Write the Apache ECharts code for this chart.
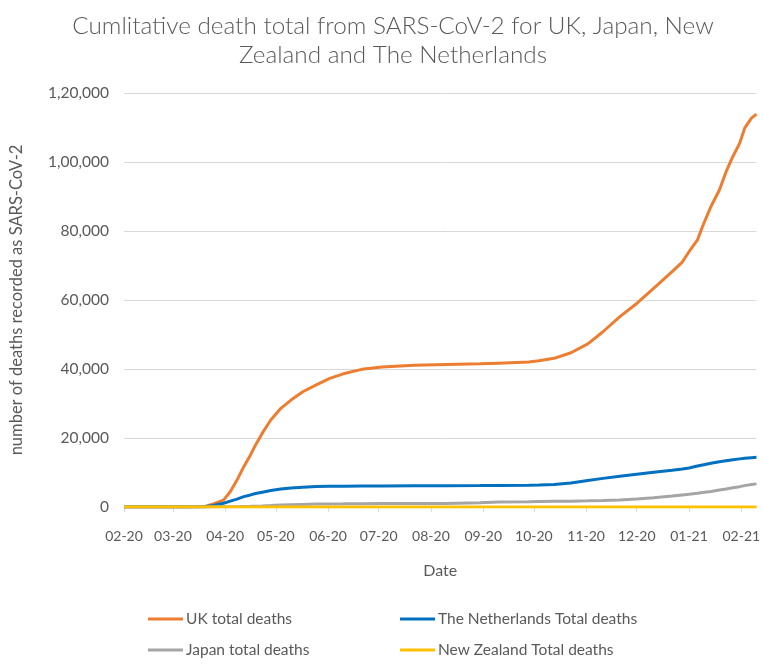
<!DOCTYPE html>
<html>
<head>
<meta charset="utf-8">
<script src="https://cdn.jsdelivr.net/npm/echarts@6/dist/echarts.min.js"></script>
<style>
html,body{margin:0;padding:0;background:#fff;}
#chart{width:763px;height:668px;}
</style>
</head>
<body>
<div id="chart"></div>
<script>
// Axis range (daily category axis)
const axisStart = '2020-02-01';
const axisEnd = '2021-02-10';

// Sample dates
const sampleDates = [
  '2020-02-01','2020-03-10','2020-03-20','2020-03-25','2020-03-31','2020-04-04','2020-04-08','2020-04-12',
  '2020-04-16','2020-04-19','2020-04-23','2020-04-28','2020-05-04','2020-05-10','2020-05-17','2020-05-25',
  '2020-06-02','2020-06-10','2020-06-21','2020-07-03','2020-07-22','2020-08-10','2020-08-30','2020-09-10',
  '2020-09-28','2020-10-04','2020-10-13','2020-10-23','2020-11-02','2020-11-11','2020-11-21','2020-12-01',
  '2020-12-11','2020-12-22','2020-12-28','2021-01-01','2021-01-06','2021-01-09','2021-01-14','2021-01-19',
  '2021-01-23','2021-01-27','2021-01-31','2021-02-03','2021-02-07','2021-02-10'
];
const ukDeaths = [
  0,0,150,900,2000,4400,7800,11700,
  15100,18000,21400,25200,28600,31000,33400,35400,
  37300,38600,39900,40600,41100,41300,41500,41700,
  42000,42400,43100,44700,47300,50800,55200,59000,
  63400,68200,71000,74000,77400,81300,87100,91900,
  97200,101600,105400,109800,112700,113900
];
const nlDeaths = [
  0,0,100,450,1100,1700,2300,3000,
  3500,3900,4300,4800,5200,5500,5750,5950,
  6000,6050,6080,6100,6130,6150,6200,6250,
  6300,6350,6550,6950,7700,8300,8900,9500,
  10050,10650,11000,11300,11900,12200,12700,13100,
  13400,13700,13950,14100,14300,14400
];
const jpDeaths = [
  0,10,35,45,60,80,100,150,
  200,250,320,420,550,650,750,850,
  900,920,960,980,1000,1050,1250,1450,
  1550,1600,1650,1700,1800,1900,2050,2300,
  2700,3200,3500,3700,4000,4200,4500,4900,
  5200,5600,5900,6200,6500,6700
];
const nzDeaths = [
  0,0,0,0,1,1,1,4,
  9,12,17,19,20,21,21,21,
  22,22,22,22,22,22,22,24,
  25,25,25,25,25,25,25,25,
  25,25,25,25,25,25,25,25,
  25,25,25,25,25,25
];
const seriesNames = ['UK total deaths','The Netherlands Total deaths','Japan total deaths','New Zealand Total deaths'];
const seriesColors = ['#ED7D31','#0070C0','#A5A5A5','#FFC000'];
const yTicks = {min:0, max:120000, interval:20000};

// build daily categories
const categories = [];
(function(){
  const d = new Date(axisStart + 'T00:00:00Z');
  const end = new Date(axisEnd + 'T00:00:00Z');
  while (d <= end) {
    categories.push(d.toISOString().slice(0,10));
    d.setUTCDate(d.getUTCDate()+1);
  }
})();

function indianFormat(v){
  const s = String(Math.round(v));
  if (s.length <= 3) return s;
  const last3 = s.slice(-3);
  let rest = s.slice(0,-3);
  rest = rest.replace(/\B(?=(\d{2})+(?!\d))/g, ',');
  return rest + ',' + last3;
}
const isMonthStart = (idx, val) => String(val).slice(8,10) === '01';

const font = 'Lato, "Noto Sans", sans-serif';
const txt = '#595959';
const values = [ukDeaths, nlDeaths, jpDeaths, nzDeaths];

const chart = echarts.init(document.getElementById('chart'), null, {renderer:'canvas'});
const legendPos = [[148,611],[400,611],[148,642],[400,642]];
chart.setOption({
  animation:false,
  backgroundColor:'#ffffff',
  title:{
    text:'Cumlitative death total from SARS-CoV-2 for UK, Japan, New\nZealand and The Netherlands',
    left:388, top:7, textAlign:'center',
    textStyle:{fontFamily:font, fontWeight:300, fontSize:24.3, lineHeight:29, color:txt}
  },
  legend: seriesNames.map((n,i)=>({
    data:[n], left:legendPos[i][0], top:legendPos[i][1],
    icon:'rect', itemWidth:35, itemHeight:3, itemGap:4,
    padding:0,
    textStyle:{fontFamily:font, fontSize:15.5, color:txt, padding:[0,0,0,-2]}
  })),
  grid:{left:118, right:1.5, top:93, bottom:161, containLabel:false},
  xAxis:{
    type:'category', data:categories, boundaryGap:false,
    name:'Date', nameLocation:'middle', nameGap:56,
    nameTextStyle:{fontFamily:font, fontSize:16, color:txt},
    axisLine:{lineStyle:{color:'#d9d9d9', width:1}},
    axisTick:{show:true, interval:isMonthStart, length:5, lineStyle:{color:'#d9d9d9'}},
    axisLabel:{interval:isMonthStart, fontFamily:font, fontSize:14, color:txt, margin:22,
      formatter:(v)=> v.slice(5,7)+'-'+v.slice(2,4)},
    splitLine:{show:false}
  },
  yAxis:{
    type:'value', min:yTicks.min, max:yTicks.max, interval:yTicks.interval,
    name:'number of deaths recorded as SARS-CoV-2', nameLocation:'middle', nameGap:99, nameRotate:90,
    nameTextStyle:{fontFamily:font, fontSize:16.5, color:txt},
    axisLine:{show:false}, axisTick:{show:false},
    axisLabel:{fontFamily:font, fontSize:15.5, color:txt, margin:15, formatter:indianFormat},
    splitLine:{lineStyle:{color:'#d9d9d9', width:1}}
  },
  series: seriesNames.map((n,i)=>({
    name:n, type:'line', showSymbol:false, symbol:'none',
    data: sampleDates.map((d,j)=>[d, values[i][j]]),
    lineStyle:{color:seriesColors[i], width:3},
    itemStyle:{color:seriesColors[i]},
    z: 2+i
  }))
});
</script>
</body>
</html>
